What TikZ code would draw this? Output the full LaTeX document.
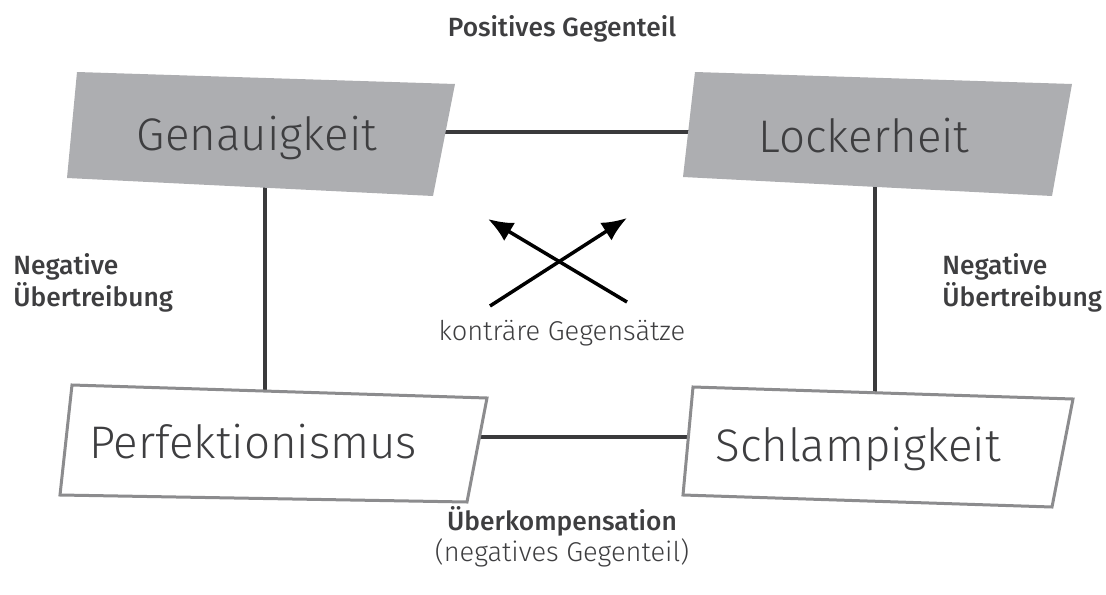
\documentclass[tikz,border=0pt]{standalone}
\usepackage{fontspec}
\setmainfont{Fira Sans Light}[BoldFont={Fira Sans Medium}]
\usepackage{xcolor}
\usetikzlibrary{arrows.meta}
\definecolor{boxGray}{RGB}{173,174,177}
\definecolor{frameGray}{RGB}{140,140,142}
\definecolor{lineGray}{RGB}{58,58,60}
\definecolor{textGray}{RGB}{62,62,64}

\begin{document}
\begin{tikzpicture}[x=0.02cm, y=-0.02cm,
    conline/.style={line width=0.085cm, lineGray},
    crossarrow/.style={-{Latex[length=0.5cm,width=0.42cm]}, line width=0.07cm, black},
    darkbox/.style={fill=boxGray},
    lightbox/.style={draw=frameGray, line width=0.06cm, fill=white, line join=miter},
    term/.style={text=textGray, anchor=base, font=\fontsize{26}{30}\selectfont},
    caption/.style={text=textGray, inner sep=0pt, font=\bfseries\fontsize{15}{15}\selectfont},
    remark/.style={text=textGray, anchor=base, font=\fontsize{15.5}{18}\selectfont}]

    \useasboundingbox (0,0) rectangle (1106,595);

    % Anchor points of the square
    \coordinate (gen) at (265,132);
    \coordinate (lock) at (875,132);
    \coordinate (perf) at (265,437);
    \coordinate (schl) at (875,437);

    % Connectors (behind the boxes)
    \draw[conline] (gen) -- (lock);
    \draw[conline] (gen) -- (perf);
    \draw[conline] (lock) -- (schl);
    \draw[conline] (perf) -- (schl);

    % Boxes
    \fill[darkbox] (77,72) -- (455,84) -- (433,196) -- (67,178) -- cycle;
    \fill[darkbox] (695,72) -- (1072,84) -- (1052,196) -- (683,177) -- cycle;
    \filldraw[lightbox] (72,385) -- (487,398) -- (467,502) -- (60,495) -- cycle;
    \filldraw[lightbox] (693,387) -- (1073,399) -- (1052,507) -- (683,495) -- cycle;

    % Box texts
    \node[term] (genText) at (257,150) {Genauigkeit};
    \node[term] (lockText) at (864,152) {Lockerheit};
    \node[term] (perfText) at (253,458) {Perfektionismus};
    \node[term] (schlText) at (858,461) {Schlampigkeit};

    % Crossing arrows
    \coordinate (crossA) at (490,306);
    \coordinate (crossB) at (627,218);
    \coordinate (crossC) at (627,302);
    \coordinate (crossD) at (488,219);
    \draw[crossarrow] (crossA) -- (crossB);
    \draw[crossarrow] (crossC) -- (crossD);

    % Labels
    \node[caption, anchor=base] (posLabel) at (562,36) {Positives Gegenteil};
    \node[caption, align=left, anchor=west] (negLeft) at (13,283) {Negative\\Übertreibung};
    \node[caption, align=left, anchor=west] (negRight) at (942,283) {Negative\\Übertreibung};
    \node[remark] (contraLabel) at (562,340) {konträre Gegensätze};
    \node[caption, anchor=base] (overLabel) at (562,530) {Überkompensation};
    \node[remark] (overSub) at (562,561) {(negatives Gegenteil)};
\end{tikzpicture}
\end{document}
